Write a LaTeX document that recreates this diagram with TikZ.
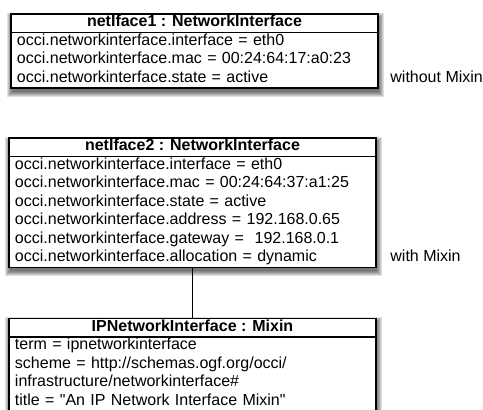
\documentclass[tikz,border=0pt]{standalone}
\usepackage{fontspec}
\setmainfont{Liberation Sans}
\usetikzlibrary{positioning, backgrounds}

\begin{document}
\begin{tikzpicture}  [
        node distance = 25pt,
        objbox/.style = {rectangle, draw, fill=white, line width=0.6pt, outer sep=0pt,
                         minimum width=183.5pt, inner xsep=3pt, inner ysep=0pt,
                         execute at begin node=\strut, execute at end node=\strut},
        objhead/.style = {objbox, font=\bfseries\fontsize{8}{9.25}\selectfont},
        objbody/.style = {objbox, font=\fontsize{8}{9.25}\selectfont, text width=177.5pt, align=left},
        side/.style = {font=\fontsize{8}{9.25}\selectfont, inner sep=0pt, anchor=base west},
        softshade/.style = {fill=black, opacity=0.12}
    ]

    \useasboundingbox (0,0) rectangle (241.5pt,-205pt);

    \node[objhead, anchor=north] (head1) at (97.25pt,-7pt) {netIface1 : NetworkInterface};
    \node[objbody, below = 0pt of head1] (body1)
        {occi.networkinterface.interface = eth0\\
         occi.networkinterface.mac = 00:24:64:17:a0:23\\
         occi.networkinterface.state = active};

    \node[objhead, below = 25pt of body1, xshift=-1pt] (head2) {netIface2 : NetworkInterface};
    \node[objbody, below = 0pt of head2] (body2)
        {occi.networkinterface.interface = eth0\\
         occi.networkinterface.mac = 00:24:64:37:a1:25\\
         occi.networkinterface.state = active\\
         occi.networkinterface.address = 192.168.0.65\\
         occi.networkinterface.gateway = \ 192.168.0.1\\
         occi.networkinterface.allocation = dynamic};

    \node[objhead, below = 25.5pt of body2] (head3) {IPNetworkInterface : Mixin};
    \node[objbody, below = 0pt of head3] (body3)
        {term = ipnetworkinterface\\
         scheme = http://schemas.ogf.org/occi/\\
         infrastructure/networkinterface\#\\
         title = \textquotedbl An IP Network Interface Mixin\textquotedbl};

    \node[side] (note1) at ([xshift=6pt, yshift=2.8pt] body1.south east) {without Mixin};
    \node[side] (note2) at ([xshift=7pt, yshift=2.8pt] body2.south east) {with Mixin};

    \draw[line width=0.5pt] (body2) -- (head3);

    % soft shadows behind the boxes
    \begin{scope}[on background layer]
        \foreach \b in {1,2,3}
            \foreach \d in {0,0.5,...,2.5}
                \fill[softshade] ([xshift={0.5pt-\d pt}, yshift={-1.8pt+\d pt}] head\b.north west)
                    rectangle ([xshift={0.5pt+\d pt}, yshift={-1.8pt-\d pt}] body\b.south east);
    \end{scope}

\end{tikzpicture}
\end{document}
